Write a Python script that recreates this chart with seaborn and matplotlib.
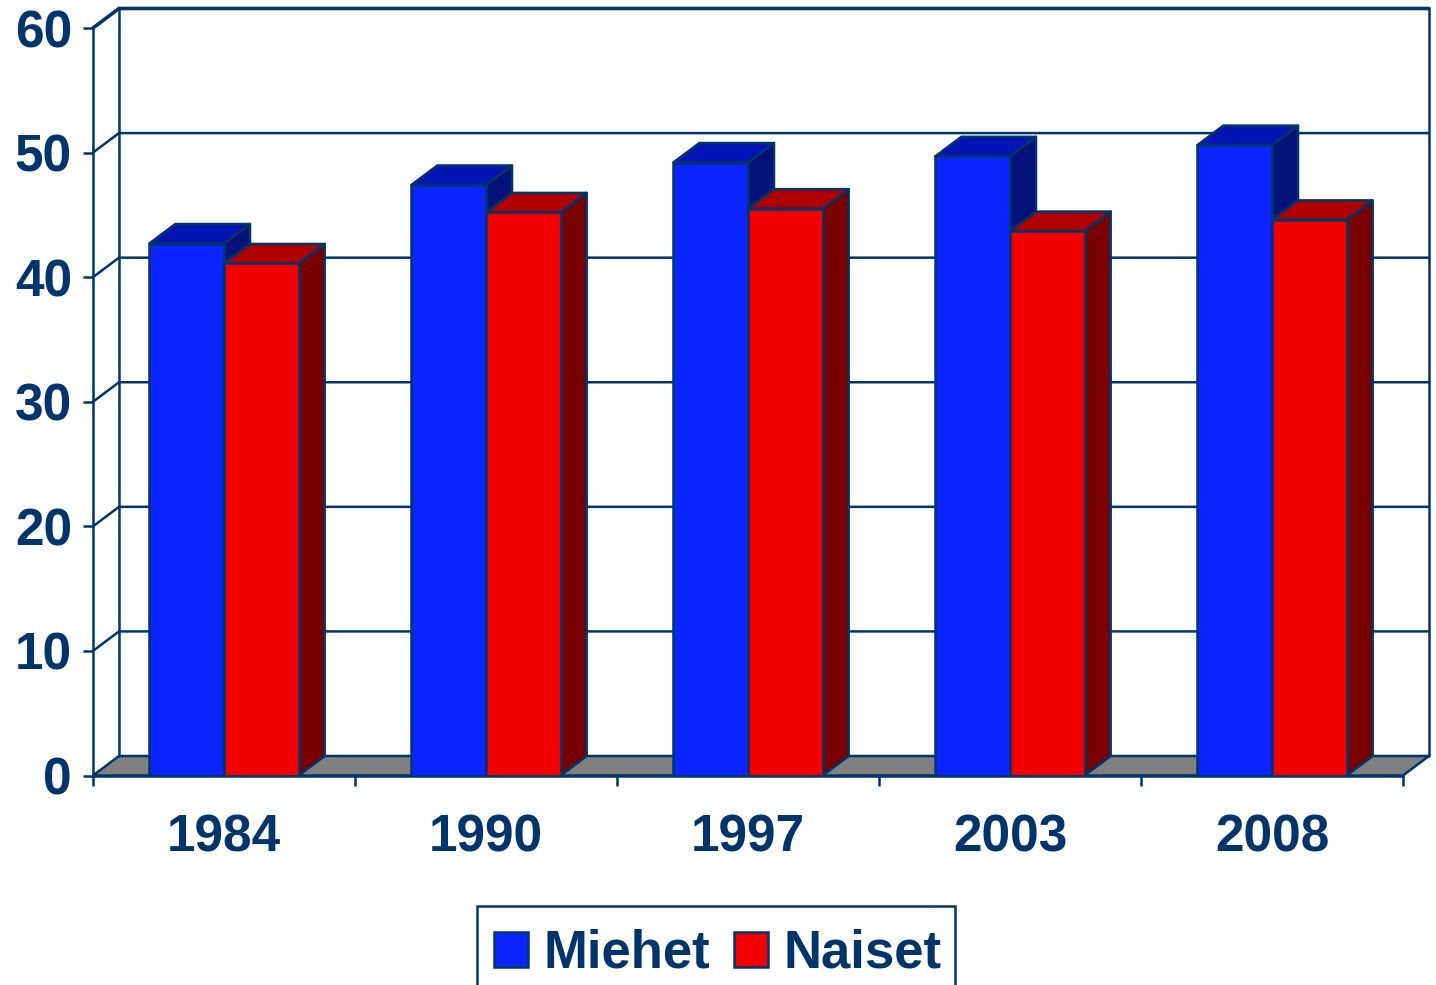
import matplotlib
matplotlib.use("Agg")
import matplotlib.pyplot as plt
from matplotlib.patches import Polygon, Rectangle
import pandas as pd
import seaborn as sns

years = ["1984", "1990", "1997", "2003", "2008"]
miehet = [42.7, 47.4, 49.2, 49.7, 50.6]
naiset = [41.1, 45.2, 45.5, 43.7, 44.6]
y_ticks = [0, 10, 20, 30, 40, 50, 60]

NAVY = "#00356B"
FRONT = {"Miehet": "#0C24FF", "Naiset": "#F00000"}
TOP = {"Miehet": "#0414B4", "Naiset": "#B00000"}
SIDE = {"Miehet": "#04127A", "Naiset": "#780000"}
FLOOR = "#808080"
LW = 1.8
FS = 37

sns.set_theme(style="white")
plt.rcParams["font.family"] = ["Liberation Sans", "DejaVu Sans"]
plt.rcParams["font.weight"] = "bold"

W, H = 1436, 985
fig = plt.figure(figsize=(W / 100, H / 100), dpi=100, facecolor="white")
ax = fig.add_axes([93 / W, (H - 775.5) / H, 1310 / W, 747.5 / H])
ax.set_facecolor("none")

df = pd.DataFrame({
    "Vuosi": years * 2,
    "Osuus": miehet + naiset,
    "Sukupuoli": ["Miehet"] * len(years) + ["Naiset"] * len(years),
})

sns.barplot(data=df, x="Vuosi", y="Osuus", hue="Sukupuoli", palette=FRONT,
            width=0.57, gap=0, saturation=1, edgecolor=NAVY, linewidth=LW,
            zorder=5, ax=ax)

ax.set_xlim(-0.5, 4.5)
ax.set_ylim(0, 60)
DX = 26 / 262      # depth offset in category units
DY = 19.5 / (747.5 / 60)   # depth offset in value units

# back wall, floor and gridlines
xl, xr = -0.5, 4.5
ax.add_patch(Polygon([(xl, 0), (xr, 0), (xr + DX, DY), (xl + DX, DY)], closed=True,
                     fc=FLOOR, ec=NAVY, lw=LW, zorder=1, clip_on=False))
for v in y_ticks[1:]:
    ax.plot([xl, xl + DX, xr + DX], [v, v + DY, v + DY], color=NAVY,
            lw=LW + 0.8 if v == 60 else LW,
            zorder=1.5, clip_on=False, solid_joinstyle="miter")
ax.plot([xl + DX, xl + DX], [DY, 60 + DY], color=NAVY, lw=LW, zorder=1.5, clip_on=False)
ax.plot([xr + DX, xr + DX], [DY, 60 + DY], color=NAVY, lw=LW, zorder=1.5, clip_on=False)

# 3-D faces of the bars, derived from the bars seaborn drew
for container, name in zip(ax.containers, ["Miehet", "Naiset"]):
    for bar in container:
        x0, w, h = bar.get_x(), bar.get_width(), bar.get_height()
        x1 = x0 + w
        z = 2 if name == "Miehet" else 3
        ax.add_patch(Polygon([(x1, 0), (x1 + DX, DY), (x1 + DX, h + DY), (x1, h)], closed=True,
                             fc=SIDE[name], ec=NAVY, lw=LW, zorder=z, joinstyle="round"))
        ax.add_patch(Polygon([(x0, h), (x0 + DX, h + DY), (x1 + DX, h + DY), (x1, h)], closed=True,
                             fc=TOP[name], ec=NAVY, lw=LW, zorder=z, joinstyle="round"))

# axes
for s in ("top", "right"):
    ax.spines[s].set_visible(False)
for s in ("left", "bottom"):
    ax.spines[s].set_color(NAVY)
    ax.spines[s].set_linewidth(LW)
    ax.spines[s].set_zorder(6)
ax.set_xlabel("")
ax.set_ylabel("")
ax.set_yticks(y_ticks)
ax.tick_params(axis="y", length=7.2, width=LW, color=NAVY, pad=8, labelsize=FS, labelcolor=NAVY, left=True)
ax.set_xticks(range(len(years)))
ax.set_xticklabels(years)
ax.tick_params(axis="x", which="major", length=0, pad=27, labelsize=FS, labelcolor=NAVY)
ax.set_xticks([i - 0.5 for i in range(len(years) + 1)], minor=True)
ax.tick_params(axis="x", which="minor", length=7.2, width=LW, color=NAVY, bottom=True)
for lab in ax.get_xticklabels() + ax.get_yticklabels():
    lab.set_fontweight("bold")

# legend (its box runs past the bottom edge of the picture)
handles, labels = ax.get_legend_handles_labels()
leg = ax.legend(handles, labels, loc="center", bbox_to_anchor=(718 / W, (H - 954) / H),
                bbox_transform=fig.transFigure, ncol=2, frameon=False,
                prop={"size": 38, "weight": "bold", "family": "Liberation Sans"},
                handlelength=0.644, handleheight=0.644, handletextpad=0.29,
                columnspacing=0.46, borderpad=0.3, borderaxespad=0, title=None)
leg.set_zorder(10)
for t in leg.get_texts():
    t.set_color(NAVY)
fig.add_artist(Rectangle((477 / W, (H - 1006) / H), 478 / W, 100 / H, transform=fig.transFigure,
                         fc="none", ec=NAVY, lw=LW))

fig.savefig("out.png", dpi=100)
